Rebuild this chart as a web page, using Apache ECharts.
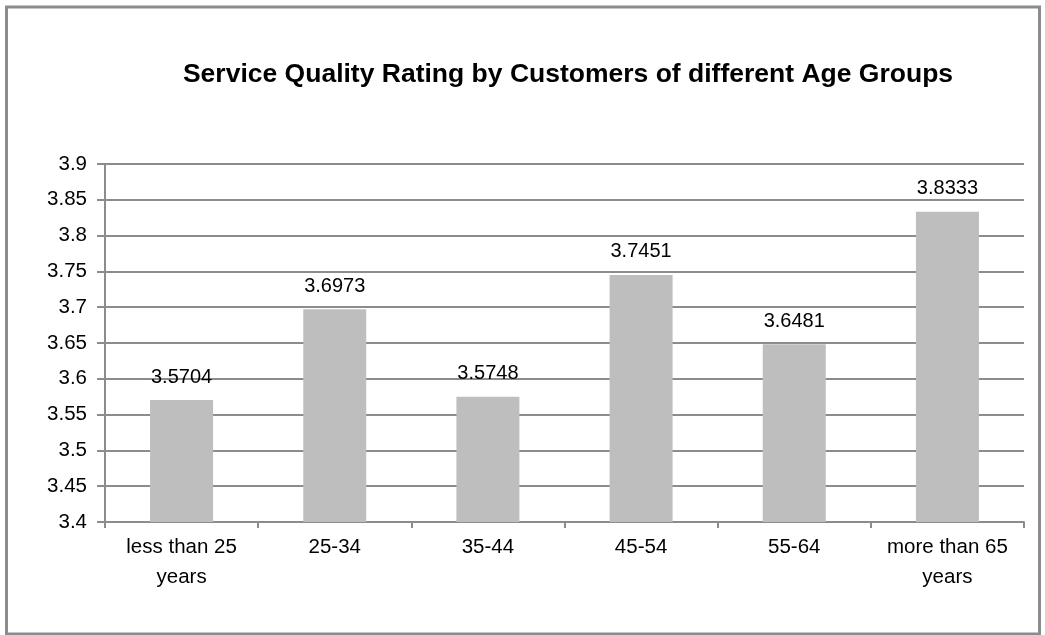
<!DOCTYPE html>
<html>
<head>
<meta charset="utf-8">
<script src="https://cdn.jsdelivr.net/npm/echarts@6/dist/echarts.min.js"></script>
<style>
  html, body { margin: 0; padding: 0; background: #fff; }
  #chart { width: 1045px; height: 635px; }
</style>
</head>
<body>
<div id="chart"></div>
<script>
const categories = ['less than 25\nyears', '25-34', '35-44', '45-54', '55-64', 'more than 65\nyears'];
const ratings = [3.5704, 3.6973, 3.5748, 3.7451, 3.6481, 3.8333];
const yMin = 3.4;
const yMax = 3.9;
const yStep = 0.05;

const FONT = "'Liberation Sans', Arial, Helvetica, sans-serif";
const GRID_COLOR = '#8c8c8c';

const chart = echarts.init(document.getElementById('chart'), null, { renderer: 'canvas' });
chart.setOption({
  animation: false,
  backgroundColor: '#ffffff',
  title: {
    text: 'Service Quality Rating by Customers of different Age Groups',
    left: 563,
    textAlign: 'center',
    top: 56,
    textStyle: { fontFamily: FONT, fontSize: 26.5, fontWeight: 'bold', color: '#000' }
  },
  graphic: [{
    type: 'rect',
    shape: { x: 6.5, y: 7, width: 1033, height: 627 },
    style: { fill: 'none', stroke: '#8c8c8c', lineWidth: 3 },
    silent: true
  }],
  grid: { left: 105, right: 21, top: 164, bottom: 113, containLabel: false },
  xAxis: {
    type: 'category',
    data: categories,
    axisLine: { lineStyle: { color: GRID_COLOR, width: 2 } },
    axisTick: { show: true, length: 6, alignWithLabel: false, lineStyle: { color: GRID_COLOR, width: 2 } },
    axisLabel: { fontFamily: FONT, fontSize: 20.5, color: '#000', margin: 10, lineHeight: 30, interval: 0 }
  },
  yAxis: {
    type: 'value',
    min: yMin,
    max: yMax,
    interval: yStep,
    axisLine: { show: true, lineStyle: { color: GRID_COLOR, width: 2 } },
    axisTick: { show: true, length: 8, lineStyle: { color: GRID_COLOR, width: 2 } },
    splitLine: { lineStyle: { color: GRID_COLOR, width: 2 } },
    axisLabel: {
      fontFamily: FONT, fontSize: 20.5, color: '#000', margin: 18,
      formatter: v => String(+v.toFixed(2))
    }
  },
  series: [{
    type: 'bar',
    data: ratings,
    barWidth: 63,
    itemStyle: { color: '#bebebe' },
    label: {
      show: true,
      position: 'top',
      distance: 13,
      fontFamily: FONT,
      fontSize: 20,
      color: '#000',
      formatter: p => p.value.toFixed(4)
    }
  }]
});
</script>
</body>
</html>
